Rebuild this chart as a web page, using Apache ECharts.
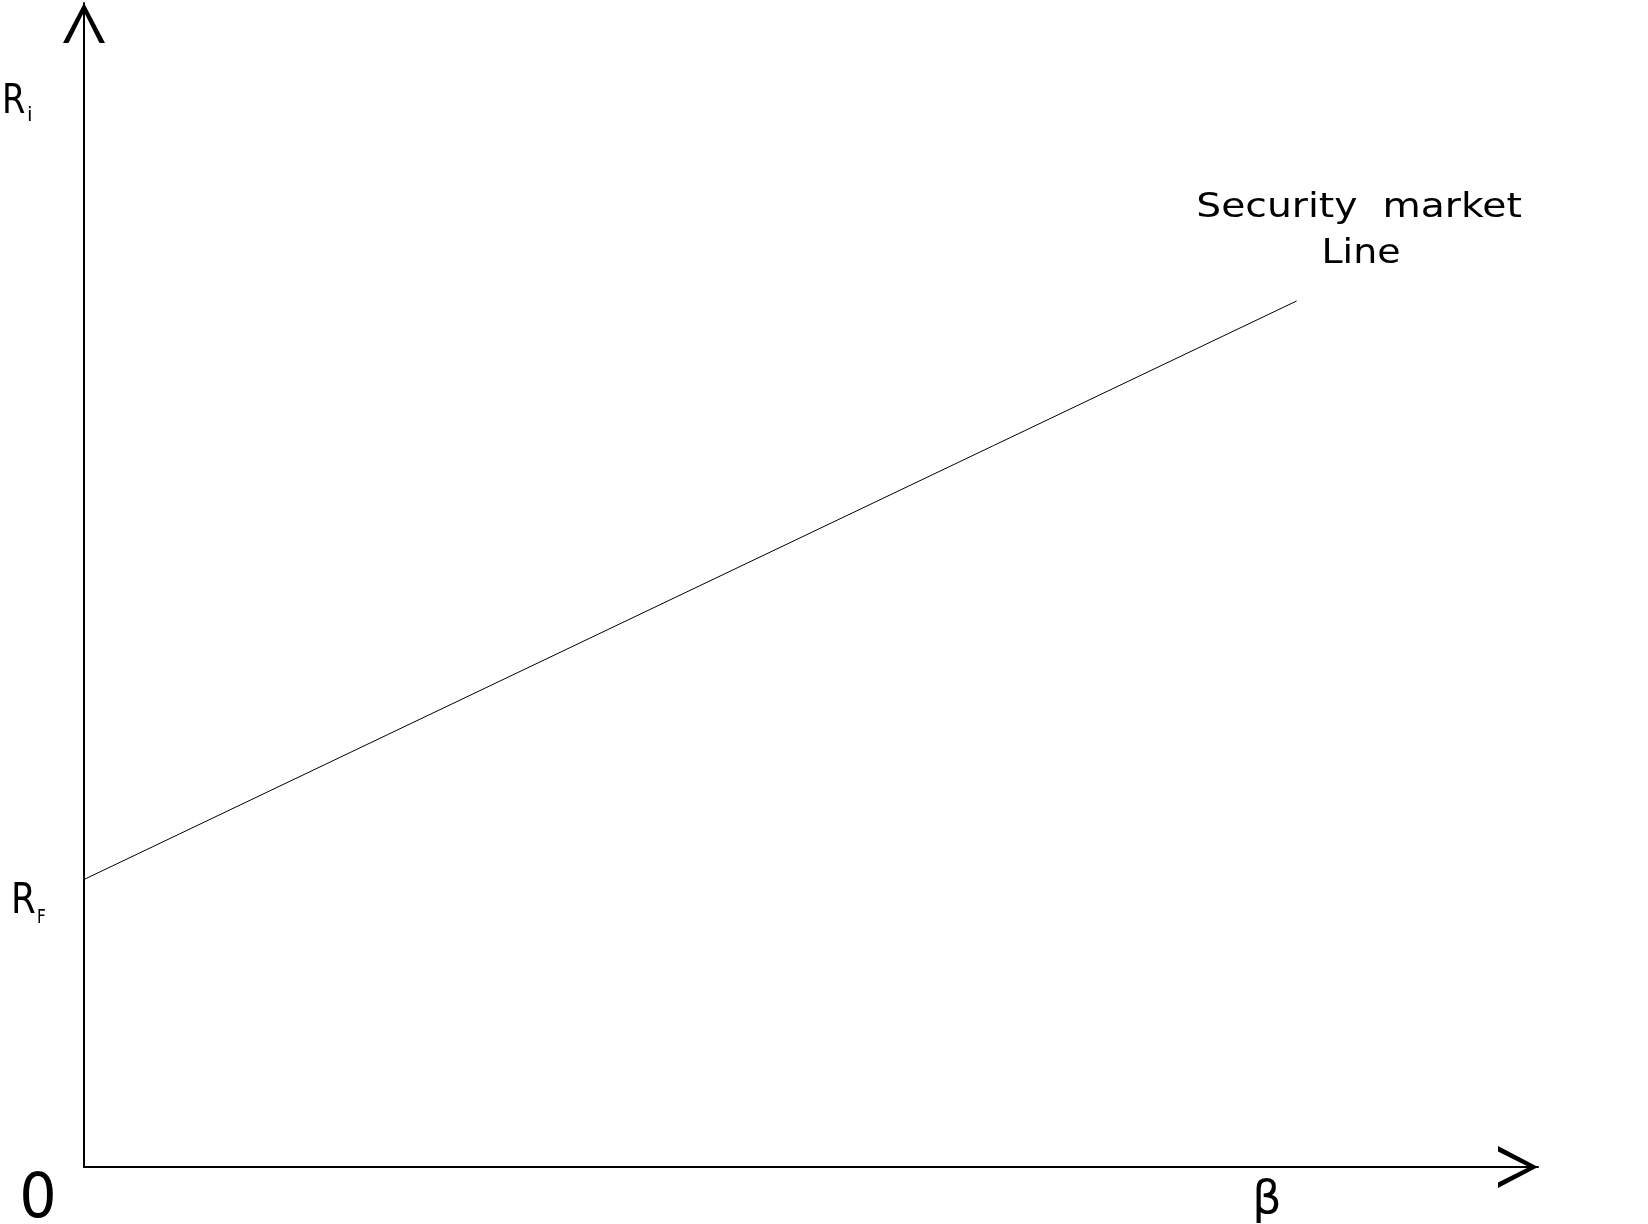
<!DOCTYPE html>
<html>
<head>
<meta charset="utf-8">
<script src="https://cdn.jsdelivr.net/npm/echarts@6/dist/echarts.min.js"></script>
<style>
html,body{margin:0;padding:0;background:#fff;}
#chart{width:1648px;height:1224px;}
</style>
</head>
<body>
<div id="chart"></div>
<script>
// Data (beta on x, expected return on y, arbitrary units 0..10)
const betaValues = [0, 8.34];
const returnValues = [2.47, 7.44];
const lineName = 'Security  market';
const lineName2 = 'Line';
const yLabelMain = 'R';
const yLabelSub = 'i';
const rfMain = 'R';
const rfSub = 'F';
const originLabel = '0';
const xLabel = 'β';

const smlData = betaValues.map((b, i) => [b, returnValues[i]]);

const chevron = 'path://M21 0 L42 40 L36.5 40 L21 9 L5.5 40 L0 40 Z';
const font = '"DejaVu Sans", sans-serif';

const chart = echarts.init(document.getElementById('chart'));
chart.setOption({
  animation: false,
  backgroundColor: '#fff',
  grid: { left: 84, right: 110, top: 3, bottom: 57 },
  xAxis: {
    type: 'value', min: 0, max: 10,
    splitLine: { show: false }, axisTick: { show: false }, axisLabel: { show: false },
    axisLine: { show: true, lineStyle: { color: '#000', width: 2 },
      symbol: ['none', chevron], symbolSize: [42, 41], symbolOffset: [0, -20] }
  },
  yAxis: {
    type: 'value', min: 0, max: 10,
    splitLine: { show: false }, axisTick: { show: false }, axisLabel: { show: false },
    axisLine: { show: true, lineStyle: { color: '#000', width: 2 },
      symbol: ['none', chevron], symbolSize: [42, 40], symbolOffset: [0, -20] }
  },
  series: [{
    type: 'line', data: smlData, showSymbol: false, silent: true,
    lineStyle: { color: '#000', width: 1 }
  }],
  graphic: [
    { type: 'text', x: 1359, y: 208, scaleX: 1.19, style: { text: lineName, x: 0, y: 0, font: '33px ' + font, fill: '#000', textAlign: 'center', textVerticalAlign: 'middle' } },
    { type: 'text', x: 1361, y: 254, scaleX: 1.15, style: { text: lineName2, x: 0, y: 0, font: '33px ' + font, fill: '#000', textAlign: 'center', textVerticalAlign: 'middle' } },
    { type: 'text', x: 2, y: 102, scaleX: 0.82, style: { text: yLabelMain, x: 0, y: 0, font: '41px ' + font, fill: '#000', textAlign: 'left', textVerticalAlign: 'middle' } },
    { type: 'text', x: 27, y: 116, style: { text: yLabelSub, x: 0, y: 0, font: '20px ' + font, fill: '#000', textAlign: 'left', textVerticalAlign: 'middle' } },
    { type: 'text', x: 11, y: 902, scaleX: 0.85, style: { text: rfMain, x: 0, y: 0, font: '42px ' + font, fill: '#000', textAlign: 'left', textVerticalAlign: 'middle' } },
    { type: 'text', x: 37, y: 918, scaleX: 0.8, style: { text: rfSub, x: 0, y: 0, font: '19px ' + font, fill: '#000', textAlign: 'left', textVerticalAlign: 'middle' } },
    { type: 'text', x: 38, y: 1201, scaleX: 0.95, style: { text: originLabel, x: 0, y: 0, font: '62px ' + font, fill: '#000', textAlign: 'center', textVerticalAlign: 'middle' } },
    { type: 'text', x: 1267, y: 1201, style: { text: xLabel, x: 0, y: 0, font: '46px ' + font, fill: '#000', textAlign: 'center', textVerticalAlign: 'middle' } }
  ]
});
</script>
</body>
</html>
